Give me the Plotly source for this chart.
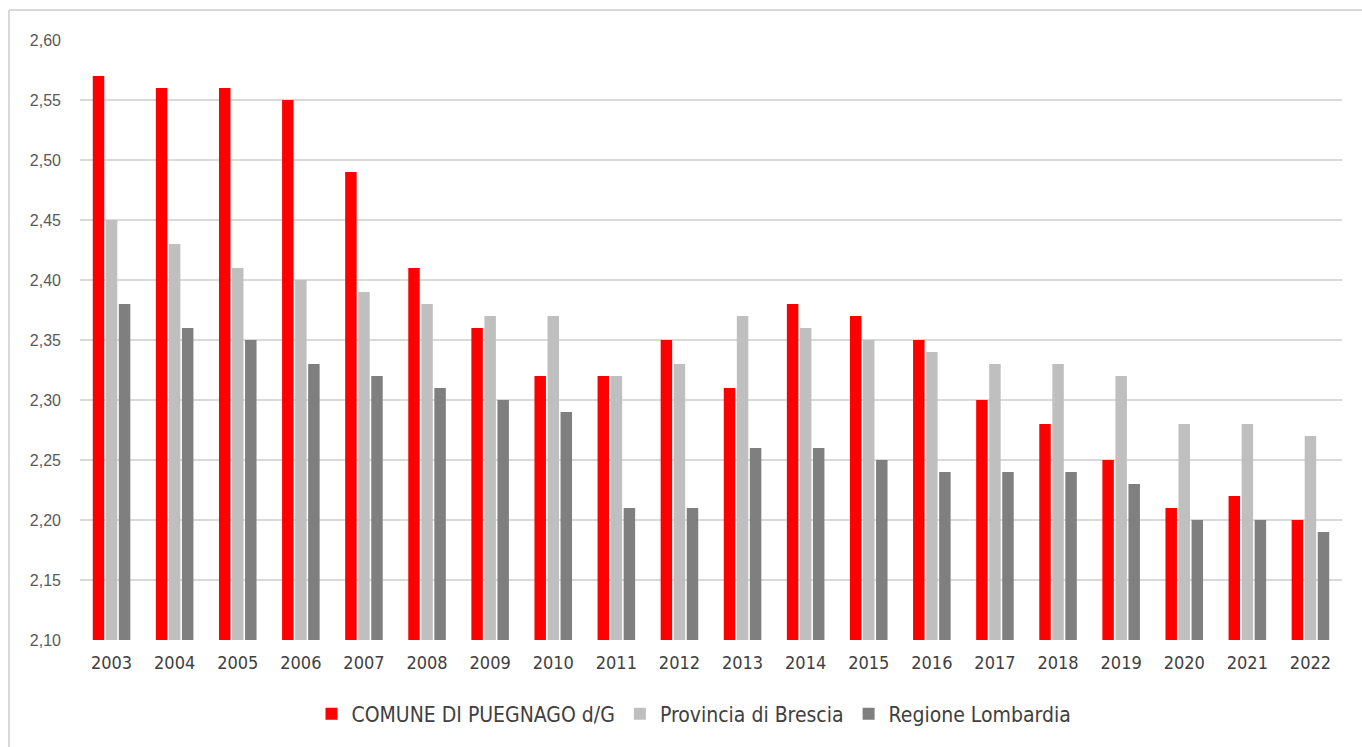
import plotly.graph_objects as go

years = [str(y) for y in range(2003, 2023)]
comune = [2.57, 2.56, 2.56, 2.55, 2.49, 2.41, 2.36, 2.32, 2.32, 2.35,
          2.31, 2.38, 2.37, 2.35, 2.30, 2.28, 2.25, 2.21, 2.22, 2.20]
provincia = [2.45, 2.43, 2.41, 2.40, 2.39, 2.38, 2.37, 2.37, 2.32, 2.33,
             2.37, 2.36, 2.35, 2.34, 2.33, 2.33, 2.32, 2.28, 2.28, 2.27]
regione = [2.38, 2.36, 2.35, 2.33, 2.32, 2.31, 2.30, 2.29, 2.21, 2.21,
           2.26, 2.26, 2.25, 2.24, 2.24, 2.24, 2.23, 2.20, 2.20, 2.19]
series_names = ["COMUNE DI PUEGNAGO d/G", "Provincia di Brescia", "Regione Lombardia"]
colors = ["#ff0000", "#bfbfbf", "#7f7f7f"]

NARROW = "DejaVu Sans Condensed, Liberation Sans Narrow, Arial Narrow, Liberation Sans, sans-serif"
REGULAR = "Liberation Sans, Arial, sans-serif"

fig = go.Figure()
for name, vals, col in zip(series_names, [comune, provincia, regione], colors):
    fig.add_trace(go.Bar(x=years, y=vals, name=name, marker_color=col,
                         marker_line_width=0))

W, H = 1362, 747
ml, mr, mt, mb = 80, 20, 40, 107
pw, ph = W - ml - mr, H - mt - mb


def px_x(p):
    return (p - ml) / pw


def px_y(p):
    return (H - mb - p) / ph


# light frame: top and left edges of the chart box
frame = dict(color="#d9d9d9", width=2)
fig.add_shape(type="line", xref="paper", yref="paper",
              x0=px_x(9), x1=px_x(1400), y0=px_y(10), y1=px_y(10), line=frame)
fig.add_shape(type="line", xref="paper", yref="paper",
              x0=px_x(9), x1=px_x(9), y0=px_y(10), y1=px_y(800), line=frame)

fig.update_layout(
    width=W, height=H,
    margin=dict(l=ml, r=mr, t=mt, b=mb),
    paper_bgcolor="white", plot_bgcolor="white",
    barmode="group", bargap=0.38, bargroupgap=0.12,
    separators=",.",
    font=dict(family=NARROW, size=18, color="#404040"),
    showlegend=True,
    legend=dict(orientation="h", x=px_x(694), xanchor="center",
                y=px_y(714), yanchor="middle",
                font=dict(family=NARROW, size=21, color="#404040"),
                itemwidth=30, traceorder="normal"),
    xaxis=dict(showgrid=False, showline=False, ticks="",
               tickfont=dict(family=NARROW, size=18, color="#404040"),
               ticklabelstandoff=10),
    yaxis=dict(range=[2.10, 2.60], dtick=0.05, tick0=2.10, tickformat=".2f",
               showgrid=True, gridcolor="#d9d9d9", gridwidth=2,
               zeroline=False, showline=False, ticks="",
               tickfont=dict(family=REGULAR, size=16, color="#595959"),
               ticklabelstandoff=18),
)

fig.write_html("out.html")
